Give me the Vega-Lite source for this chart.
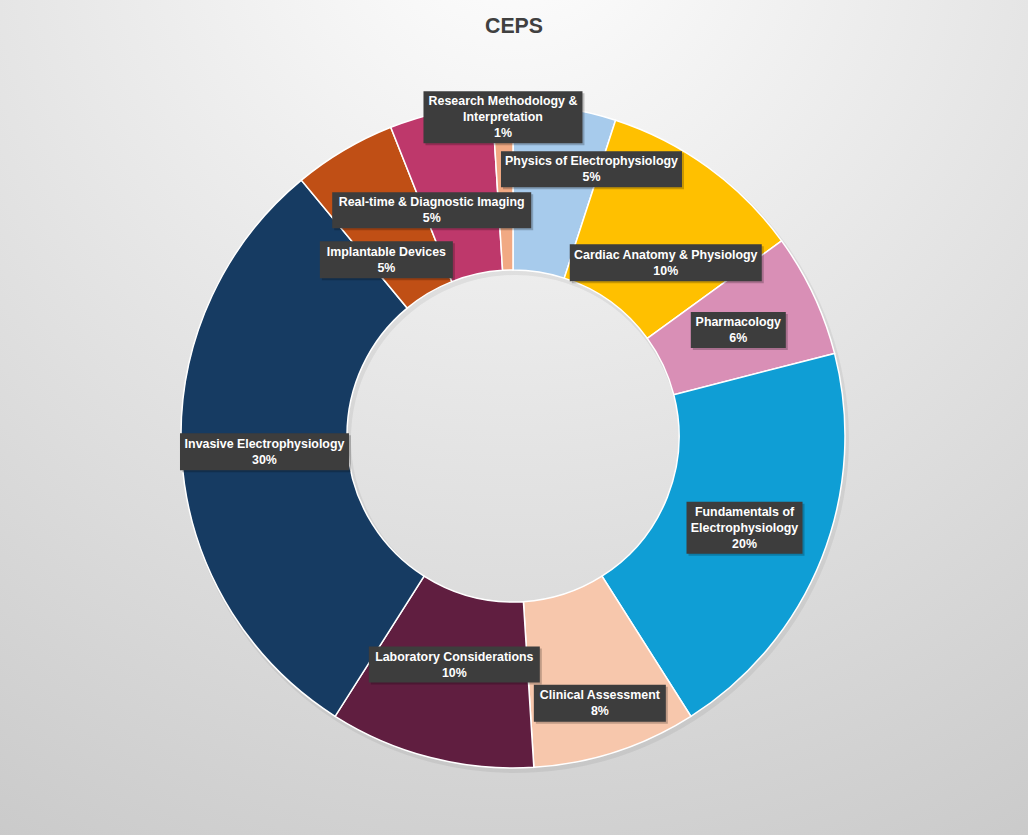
{
  "$schema": "https://vega.github.io/schema/vega-lite/v6.json",
  "width": 1028,
  "height": 835,
  "autosize": {"type": "none"},
  "padding": 0,
  "background": "#e4e4e4",
  "title": {"text": "CEPS", "font": "Liberation Sans", "fontSize": 21.3, "fontWeight": "bold", "color": "#404040", "anchor": "middle", "offset": -37},
  "config": {"view": {"stroke": null}},
  "data": {"values": [
    {"name": "Physics of Electrophysiology", "value": 5},
    {"name": "Cardiac Anatomy & Physiology", "value": 10},
    {"name": "Pharmacology", "value": 6},
    {"name": "Fundamentals of Electrophysiology", "value": 20},
    {"name": "Clinical Assessment", "value": 8},
    {"name": "Laboratory Considerations", "value": 10},
    {"name": "Invasive Electrophysiology", "value": 30},
    {"name": "Implantable Devices", "value": 5},
    {"name": "Real-time & Diagnostic Imaging", "value": 5},
    {"name": "Research Methodology & Interpretation", "value": 1}
  ]},
  "transform": [
    {"window": [{"op": "sum", "field": "value", "as": "v1"}], "frame": [null, 0]},
    {"calculate": "datum.v1 - datum.value", "as": "v0"},
    {"calculate": "datum.name === 'Research Methodology & Interpretation' ? 319 : datum.name === 'Physics of Electrophysiology' ? 278 : datum.name === 'Real-time & Diagnostic Imaging' ? 240 : datum.name === 'Implantable Devices' ? 217 : datum.name === 'Cardiac Anatomy & Physiology' ? 231 : datum.name === 'Clinical Assessment' ? 281 : datum.name === 'Laboratory Considerations' ? 236 : 249", "as": "lr"},
    {"calculate": "((datum.v0 + datum.v1) / 2 * 3.6 + (datum.name === 'Physics of Electrophysiology' ? 7.4 : datum.name === 'Real-time & Diagnostic Imaging' ? -7.2 : datum.name === 'Implantable Devices' ? -5.1 : datum.name === 'Cardiac Anatomy & Physiology' ? 5.4 : 0)) * PI / 180", "as": "la"},
    {"calculate": "datum.lr * sin(datum.la)", "as": "lx"},
    {"calculate": "datum.lr * cos(datum.la)", "as": "ly"},
    {"calculate": "replace(replace(datum.name, 'Methodology & ', 'Methodology &\\n'), 'Fundamentals of ', 'Fundamentals of\\n') + '\\n' + datum.value + '%'", "as": "label"},
    {"calculate": "datum.ly + (length(split(datum.label, '\\n')) - 1) * 8", "as": "ty"}
  ],
  "layer": [
    {
      "data": {"values": [{}]},
      "mark": {"type": "rect", "fill": {"gradient": "radial", "x1": 0.5, "y1": 0, "r1": 0, "x2": 0.5, "y2": 0, "r2": 1.2, "stops": [{"offset": 0, "color": "#ffffff"}, {"offset": 1, "color": "#c2c2c2"}]}},
      "encoding": {}
    },
    {
      "mark": {"type": "arc", "outerRadius": 334, "innerRadius": 164, "color": "#000000", "opacity": 0.06, "xOffset": 2, "yOffset": 3},
      "encoding": {
        "theta": {"field": "v0", "type": "quantitative", "scale": {"domain": [0, 100]}, "stack": null},
        "theta2": {"field": "v1"},
        "x": {"datum": 0, "type": "quantitative", "scale": {"domain": [-513, 515], "nice": false, "zero": false}, "axis": null},
        "y": {"datum": 0, "type": "quantitative", "scale": {"domain": [-399, 436], "nice": false, "zero": false}, "axis": null}
      }
    },
    {
      "mark": {"type": "arc", "outerRadius": 332, "innerRadius": 166, "stroke": "#ffffff", "strokeWidth": 1.5},
      "encoding": {
        "theta": {"field": "v0", "type": "quantitative", "scale": {"domain": [0, 100]}, "stack": null},
        "theta2": {"field": "v1"},
        "x": {"datum": 0, "type": "quantitative", "scale": {"domain": [-513, 515], "nice": false, "zero": false}, "axis": null},
        "y": {"datum": 0, "type": "quantitative", "scale": {"domain": [-399, 436], "nice": false, "zero": false}, "axis": null},
        "color": {"field": "name", "type": "nominal", "legend": null,
          "scale": {
            "domain": ["Physics of Electrophysiology", "Cardiac Anatomy & Physiology", "Pharmacology", "Fundamentals of Electrophysiology", "Clinical Assessment", "Laboratory Considerations", "Invasive Electrophysiology", "Implantable Devices", "Real-time & Diagnostic Imaging", "Research Methodology & Interpretation"],
            "range": ["#A7CBEC", "#FFC000", "#D98FB6", "#0F9ED5", "#F7C7AC", "#601E40", "#163B62", "#C04F15", "#BE386B", "#F1A983"]
          }}
      }
    },
    {
      "mark": {"type": "point", "filled": true, "size": 40000, "color": "#000000", "opacity": 0.22, "strokeWidth": 0, "xOffset": 2, "yOffset": 2},
      "encoding": {
        "x": {"field": "lx", "type": "quantitative", "scale": {"domain": [-513, 515], "nice": false, "zero": false}, "axis": null},
        "y": {"field": "ly", "type": "quantitative", "scale": {"domain": [-399, 436], "nice": false, "zero": false}, "axis": null},
        "shape": {"field": "name", "type": "nominal", "legend": null,
          "scale": {
            "domain": ["Physics of Electrophysiology", "Cardiac Anatomy & Physiology", "Pharmacology", "Fundamentals of Electrophysiology", "Clinical Assessment", "Laboratory Considerations", "Invasive Electrophysiology", "Implantable Devices", "Real-time & Diagnostic Imaging", "Research Methodology & Interpretation"],
            "range": ["M-0.905,-0.18H0.905V0.18H-0.905Z", "M-0.96,-0.185H0.96V0.185H-0.96Z", "M-0.475,-0.18H0.475V0.18H-0.475Z", "M-0.58,-0.26H0.58V0.26H-0.58Z", "M-0.66,-0.185H0.66V0.185H-0.66Z", "M-0.855,-0.18H0.855V0.18H-0.855Z", "M-0.845,-0.185H0.845V0.185H-0.845Z", "M-0.665,-0.185H0.665V0.185H-0.665Z", "M-0.995,-0.18H0.995V0.18H-0.995Z", "M-0.795,-0.26H0.795V0.26H-0.795Z"]
          }}
      }
    },
    {
      "mark": {"type": "point", "filled": true, "size": 40000, "color": "#3d3d3d", "opacity": 1, "strokeWidth": 0},
      "encoding": {
        "x": {"field": "lx", "type": "quantitative", "scale": {"domain": [-513, 515], "nice": false, "zero": false}, "axis": null},
        "y": {"field": "ly", "type": "quantitative", "scale": {"domain": [-399, 436], "nice": false, "zero": false}, "axis": null},
        "shape": {"field": "name", "type": "nominal", "legend": null}
      }
    },
    {
      "mark": {"type": "text", "font": "Liberation Sans", "fontSize": 12.4, "fontWeight": "bold", "color": "#ffffff", "lineBreak": "\n", "lineHeight": 16, "align": "center", "baseline": "middle"},
      "encoding": {
        "x": {"field": "lx", "type": "quantitative", "scale": {"domain": [-513, 515], "nice": false, "zero": false}, "axis": null},
        "y": {"field": "ty", "type": "quantitative", "scale": {"domain": [-399, 436], "nice": false, "zero": false}, "axis": null},
        "text": {"field": "label"}
      }
    }
  ]
}
